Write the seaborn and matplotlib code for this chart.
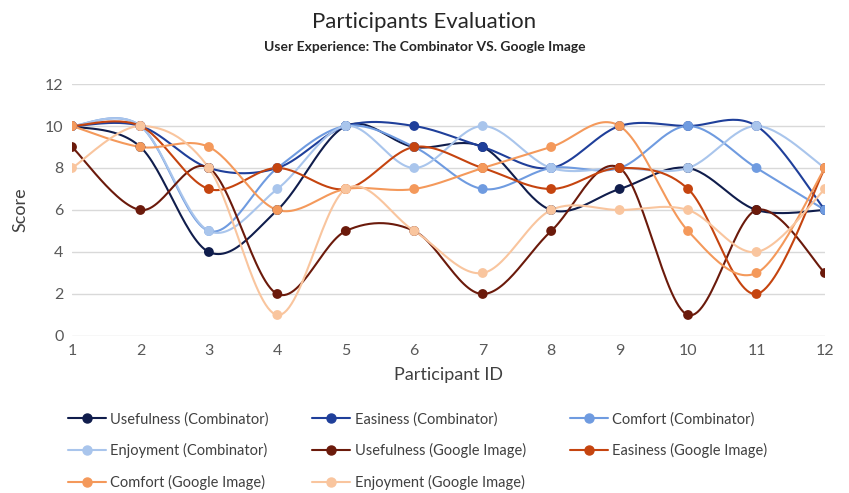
import numpy as np
import pandas as pd
import matplotlib
matplotlib.use("Agg")
import matplotlib.pyplot as plt
from matplotlib.lines import Line2D
import seaborn as sns

# ── data ──────────────────────────────────────────────────────
PARTICIPANTS = list(range(1, 13))
SERIES = [
    "Usefulness (Combinator)", "Easiness (Combinator)",
    "Comfort (Combinator)", "Enjoyment (Combinator)",
    "Usefulness (Google Image)", "Easiness (Google Image)",
    "Comfort (Google Image)", "Enjoyment (Google Image)",
]
usefulness_comb = [10, 9, 4, 6, 10, 9, 9, 6, 7, 8, 6, 6]
easiness_comb   = [10, 10, 8, 8, 10, 10, 9, 8, 10, 10, 10, 6]
comfort_comb    = [10, 10, 5, 8, 10, 9, 7, 8, 8, 10, 8, 6]
enjoyment_comb  = [10, 10, 5, 7, 10, 8, 10, 8, 8, 8, 10, 8]
usefulness_goog = [9, 6, 8, 2, 5, 5, 2, 5, 8, 1, 6, 3]
easiness_goog   = [10, 10, 7, 8, 7, 9, 8, 7, 8, 7, 2, 8]
comfort_goog    = [10, 9, 9, 6, 7, 7, 8, 9, 10, 5, 3, 8]
enjoyment_goog  = [8, 10, 8, 1, 7, 5, 3, 6, 6, 6, 4, 7]

VALUES = [usefulness_comb, easiness_comb, comfort_comb, enjoyment_comb,
          usefulness_goog, easiness_goog, comfort_goog, enjoyment_goog]
COLORS = ["#101d4c", "#1f3f9a", "#6f9be0", "#a9c5ec",
          "#6b1a0b", "#c5440f", "#f4995b", "#f9c59e"]

df = pd.DataFrame({
    "Participant": np.tile(PARTICIPANTS, len(SERIES)),
    "Score": np.concatenate(VALUES),
    "Series": np.repeat(SERIES, len(PARTICIPANTS)),
})


def smooth(x, y, n=30):
    # Excel-like smoothed line: Catmull-Rom segments through the points
    x = np.asarray(x, float)
    y = np.asarray(y, float)
    px = np.concatenate([[x[0]], x, [x[-1]]])
    py = np.concatenate([[y[0]], y, [y[-1]]])
    t = np.linspace(0, 1, n)[:, None]
    xs, ys = [], []
    for i in range(1, len(px) - 2):
        p0 = np.array([px[i - 1], py[i - 1]])
        p1 = np.array([px[i], py[i]])
        p2 = np.array([px[i + 1], py[i + 1]])
        p3 = np.array([px[i + 2], py[i + 2]])
        c1 = p1 + (p2 - p0) / 6
        c2 = p2 - (p3 - p1) / 6
        pts = ((1 - t) ** 3 * p1 + 3 * (1 - t) ** 2 * t * c1
               + 3 * (1 - t) * t ** 2 * c2 + t ** 3 * p2)
        xs.append(pts[:, 0])
        ys.append(pts[:, 1])
    return np.concatenate(xs), np.concatenate(ys)


sns.set_theme(style="white")
plt.rcParams["font.family"] = ["Lato", "DejaVu Sans"]

fig = plt.figure(figsize=(8.49, 4.93), dpi=100)
ax = fig.add_axes([0.0848, 0.3185, 0.8869, 0.5111])

for name, vals, color in zip(SERIES, VALUES, COLORS):
    sx, sy = smooth(PARTICIPANTS, vals)
    ax.plot(sx, sy, color=color, linewidth=1.5, zorder=2)

sns.scatterplot(data=df, x="Participant", y="Score", hue="Series",
                hue_order=SERIES, palette=COLORS, s=50, edgecolor="none",
                legend=False, ax=ax, zorder=3)

ax.set_xlim(1, 12)
ax.set_ylim(0, 12)
ax.set_xticks(PARTICIPANTS)
ax.set_yticks(range(0, 13, 2))
ax.grid(axis="y", color="#d9d9d9", linewidth=1)
ax.set_axisbelow(True)
for s in ax.spines.values():
    s.set_visible(False)
ax.tick_params(axis="both", length=0, labelsize=11.5, colors="#595959", pad=6)
ax.set_xlabel("Participant ID", fontsize=13, color="#404040", labelpad=6)
ax.set_ylabel("Score", fontsize=13, color="#404040", labelpad=12)

fig.text(0.5, 0.955, "Participants Evaluation", ha="center", va="center",
         fontsize=16, color="#262626")
fig.text(0.5, 0.905, "User Experience: The Combinator VS. Google Image",
         ha="center", va="center", fontsize=10, fontweight="bold",
         color="#262626")

# legend is filled row by row in the reference; matplotlib fills columns
order = [0, 3, 6, 1, 4, 7, 2, 5]
handles = [Line2D([], [], color=COLORS[i], marker="o", markersize=6.5,
                  linewidth=1.5) for i in order]
labels = [SERIES[i] for i in order]
fig.legend(handles, labels, ncol=3, loc="upper left",
           bbox_to_anchor=(0.080, 1 - 412 / 493), bbox_transform=fig.transFigure,
           frameon=False, fontsize=10.5, handlelength=2.6, handletextpad=0.3,
           columnspacing=3.0, labelspacing=1.15, labelcolor="#404040",
           borderaxespad=0, borderpad=0)

fig.savefig("out.png", dpi=100)
